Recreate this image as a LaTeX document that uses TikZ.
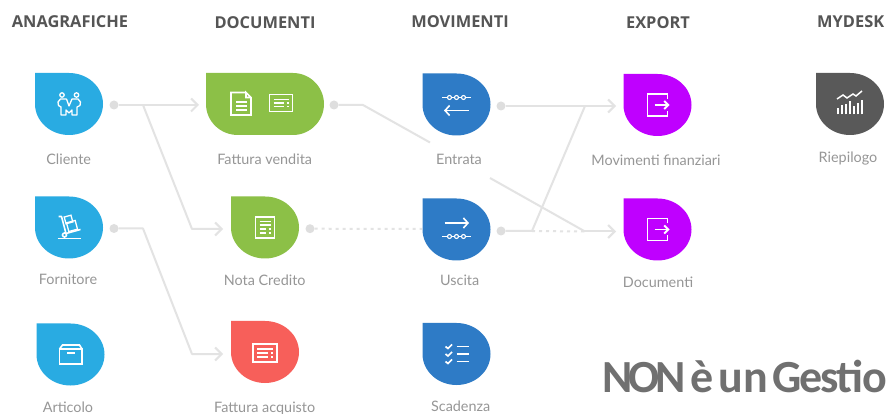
\documentclass[tikz,border=0pt]{standalone}
\usepackage{fontspec}
\setmainfont{Lato}
\newfontfamily\headfont{Open Sans}
\newfontfamily\bigfont[LetterSpace=-4]{Carlito}
\usetikzlibrary{arrows.meta}
\definecolor{cblue}{HTML}{29ABE2}
\definecolor{cgreen}{HTML}{8CC047}
\definecolor{cred}{HTML}{F75F5A}
\definecolor{cdblue}{HTML}{2E7BC6}
\definecolor{cmag}{HTML}{BF00FF}
\definecolor{cdark}{HTML}{595959}
\definecolor{cline}{HTML}{E3E3E3}
\definecolor{cdot}{HTML}{DEDEDE}
\definecolor{chead}{HTML}{555555}
\definecolor{clabel}{HTML}{969696}
\definecolor{cbig}{HTML}{707070}
\tikzset{
  heading/.style={font=\headfont\bfseries\fontsize{16.4}{18}\selectfont,text=chead,inner sep=0pt,anchor=center},
  caption/.style={font=\fontsize{14.4}{16}\selectfont,text=clabel,inner sep=0pt,anchor=center},
  portdot/.style={circle,fill=cdot,draw=none,minimum size=9pt,inner sep=0pt},
  conn/.style={draw=cline,line width=2pt,line join=round},
  connarrow/.style={conn,-{Straight Barb[length=6.5pt,width=13pt,line width=2pt]}},
  conndot/.style={draw=cline,line width=2pt,dash pattern=on 3pt off 4pt},
  icon/.style={draw=white,line width=1.6pt,fill=none,line join=miter},
  iconthin/.style={draw=white,line width=1.3pt,fill=none},
}
% drop: #1 name, #2 left, #3 top, #4 colour
\newcommand{\dropshape}[4]{%
  \fill[#4] (#2,#3) -- ++(34,0) arc[start angle=90,end angle=-90,x radius=34,y radius=-31]
    arc[start angle=-90,end angle=-180,x radius=34,y radius=-31] -- cycle;
  \coordinate (#1) at (#2+34,#3+31);
}
\newcommand{\chainicon}[1]{%
  \draw[iconthin] (-14.5,#1) -- (14.5,#1);
  \foreach \cx in {-7,0,7}{\draw[white,line width=1.1pt,fill=cdblue] (\cx,#1) circle[radius=2];}
}
\newcommand{\exporticon}{%
  \draw[icon] (10,-6) -- (10,-11) -- (-10,-11) -- (-10,11) -- (10,11) -- (10,6);
  \draw[icon,-{Straight Barb[length=4pt,width=8pt,line width=1.8pt]}] (-3,0) -- (12,0);
}
\newcommand{\cardicon}[2]{% half-width, half-height
  \draw[icon] (-#1,-#2) rectangle (#1,#2);
  \draw[iconthin] (-#1+4,-#2+5) -- (#1-4,-#2+5);
  \draw[iconthin] (-#1+4,0) -- (#1-9,0);
  \draw[iconthin] (#1-6,0) -- (#1-4,0);
  \draw[iconthin] (-#1+4,#2-5) -- (#1-9,#2-5);
  \draw[iconthin] (#1-6,#2-5) -- (#1-4,#2-5);
}
\begin{document}
\begin{tikzpicture}[x=1pt,y=-1pt]
\useasboundingbox (0,0) rectangle (887,414);
\fill[white] (0,0) rectangle (887,414);
\clip (0,0) rectangle (887,414);

% connectors: free ends and bends
\coordinate (bCliente) at (143,105);
\coordinate (bClienteB) at (192,229);
\coordinate (tVendita) at (199,105);
\coordinate (tNota) at (223,229);
\coordinate (bForn) at (143,228.5);
\coordinate (bFornB) at (192,354);
\coordinate (tAcq) at (223,354);
\coordinate (bVend) at (363,105);
\coordinate (gapA) at (430,142.5);
\coordinate (gapB) at (490,178);
\coordinate (bDoc) at (585,231.5);
\coordinate (tDoc) at (616,231.5);
\coordinate (tMov) at (616,106);
\coordinate (bMov) at (585,106);
\coordinate (bUsc) at (532,231);
\coordinate (eUsc) at (422,229);

\node[portdot] (dCliente) at (114,105) {};
\node[portdot] (dForn) at (114,228.5) {};
\node[portdot] (dVend) at (334,105) {};
\node[portdot] (dNota) at (310,228.7) {};
\node[portdot] (dEntr) at (501,106) {};
\node[portdot] (dUsc) at (501,231) {};

\draw[connarrow] (dCliente) -- (tVendita);
\draw[connarrow] (bCliente) -- (bClienteB) -- (tNota);
\draw[connarrow] (dForn) -- (bForn) -- (bFornB) -- (tAcq);
\draw[conn] (dVend) -- (bVend) -- (gapA);
\draw[conn] (gapB) -- (bDoc);
\draw[connarrow] (bDoc) -- (tDoc);
\draw[connarrow] (dEntr) -- (tMov);
\draw[conn] (bMov) -- (bUsc) -- (dUsc);
\draw[conndot] (bUsc) -- (bDoc);
\draw[conndot] (dNota) -- (eUsc);

% drops
\dropshape{cliente}{35}{73}{cblue}
\dropshape{fornitore}{35}{196.5}{cblue}
\dropshape{articolo}{36.5}{323.5}{cblue}
\dropshape{nota}{231}{196.5}{cgreen}
\dropshape{acquisto}{231}{321}{cred}
\dropshape{entrata}{422.5}{73.5}{cdblue}
\dropshape{uscita}{422.5}{198.5}{cdblue}
\dropshape{scadenza}{422.5}{323}{cdblue}
\dropshape{movfin}{623.5}{74}{cmag}
\dropshape{documenti}{623.5}{198.5}{cmag}
\dropshape{riepilogo}{816}{73}{cdark}
% wide drop
\fill[cgreen] (206,73) -- (293,73)
  .. controls (310,73) and (324,87) .. (324,104)
  .. controls (324,121) and (310,135) .. (293,135)
  -- (238,135)
  .. controls (220,135) and (206,121) .. (206,104) -- cycle;
\coordinate (vendita) at (265,104);

% Cliente icon
\begin{scope}[shift={(cliente)}]
  \draw[iconthin] (-7,-9) circle[radius=2.2] (7.5,-9) circle[radius=2.2];
  \draw[iconthin,line join=round] (-2.5,-5) -- (-8.5,-5) -- (-11,-2) -- (-10.5,1.5) -- (-8,3) -- (-8,11) -- (-3,11) -- (-3,6) -- (0,9) -- (3,6) -- (3,11) -- (8,11) -- (8,3) -- (11,1.5) -- (11.5,-2) -- (9,-5) -- (3,-5) -- (0,2) -- (-2.5,-5);
\end{scope}
% Fattura vendita icons
\begin{scope}[shift={(241,103.5)}]
  \draw[icon] (5,-11) -- (-10,-11) -- (-10,11.5) -- (10,11.5) -- (10,-6) -- (5,-11) -- (5,-6) -- (10,-6);
  \draw[iconthin,line width=1.6pt] (-5,-1.5) -- (5.5,-1.5) (-5,2.5) -- (5.5,2.5) (-5,6.5) -- (5.5,6.5);
\end{scope}
\begin{scope}[shift={(281,103)}]
  \cardicon{11.5}{8.5}
\end{scope}
% Nota credito icon
\begin{scope}[shift={(265,227.5)}]
  \draw[icon] (-9.5,-10.5) rectangle (9.5,10.5);
  \draw[iconthin] (-5.5,-6) -- (5.5,-6) (-5.5,-2.5) -- (5.5,-2.5);
  \draw[iconthin,line width=1.5pt] (-5.5,1.5) -- (1,1.5) (3.5,1.5) -- (5.5,1.5) (-5.5,5.5) -- (1,5.5) (3.5,5.5) -- (5.5,5.5);
\end{scope}
% Fattura acquisto icon
\begin{scope}[shift={(265,353)}]
  \cardicon{12}{9}
\end{scope}
% Fornitore icon: hand truck
\begin{scope}[shift={(69.5,227.5)}]
  \draw[icon,line join=round] (-11,-11) -- (-8,-11) -- (-3.5,6) -- (11,2);
  \draw[icon] (-12,11) -- (11.5,11);
  \draw[icon,fill=cblue] (-5,7.5) circle[radius=2];
  \draw[iconthin,rotate around={15:(-1,-8)}] (-4.5,-11.5) rectangle (2.5,-4.5);
  \draw[iconthin,rotate around={15:(2.5,-1.5)}] (-2,-6) rectangle (7,3);
\end{scope}
% Articolo icon: box
\begin{scope}[shift={(70.5,354)}]
  \draw[icon] (-11,-5) -- (-11,10) -- (11.5,10) -- (11.5,-5) -- cycle;
  \draw[icon] (-11,-5) -- (-8,-9) -- (9,-9) -- (11.5,-5);
  \draw[iconthin] (-3.5,-1) -- (4,-1);
\end{scope}
% Entrata, Uscita
\begin{scope}[shift={(entrata)}]
  \chainicon{-7}
  \draw[icon,{Straight Barb[length=4.5pt,width=10pt,line width=1.6pt]}-] (-12.5,6) -- (12,6);
\end{scope}
\begin{scope}[shift={(uscita)}]
  \chainicon{7}
  \draw[icon,-{Straight Barb[length=4.5pt,width=10pt,line width=1.6pt]}] (-12,-6.5) -- (12.5,-6.5);
\end{scope}
% Scadenza
\begin{scope}[shift={(scadenza)}]
  \foreach \ty in {-7.5,0,7.5}{
    \draw[iconthin,line width=1.7pt] (-11,\ty) -- (-8.5,\ty+2) -- (-4.5,\ty-2);
    \draw[icon] (0,\ty) -- (12.5,\ty);
  }
\end{scope}
% Export
\begin{scope}[shift={(657.5,105)}]\exporticon\end{scope}
\begin{scope}[shift={(657.5,229.5)}]\exporticon\end{scope}
% Riepilogo
\begin{scope}[shift={(850,104)}]
  \draw[white,line width=1.5pt] (-13,-5) -- (-7,-9) -- (-3,-6) -- (3,-10) -- (6,-8) -- (12,-13);
  \foreach \bx/\by in {-12/4,-8/1,-4/0,0/-3,4/2,8/-1,12/-4}{
    \draw[white,line width=2.2pt] (\bx,10.5) -- (\bx,\by);
  }
\end{scope}

% headings
\node[heading] (hAna) at (70,22) {ANAGRAFICHE};
\node[heading] (hDoc) at (265,23) {DOCUMENTI};
\node[heading] (hMov) at (460,22) {MOVIMENTI};
\node[heading] (hExp) at (658,23) {EXPORT};
\node[heading] (hMyd) at (850.7,22) {MYDESK};

% captions
\node[caption] (lCli) at (68.7,159) {Cliente};
\node[caption] (lVen) at (264.7,159) {Fattura vendita};
\node[caption] (lFor) at (68,279) {Fornitore};
\node[caption] (lNot) at (264.7,280) {Nota Credito};
\node[caption] (lArt) at (68,407) {Articolo};
\node[caption] (lAcq) at (264.7,408) {Fattura acquisto};
\node[caption] (lEnt) at (459,159) {Entrata};
\node[caption] (lUsc) at (459.7,280) {Uscita};
\node[caption] (lSca) at (460.7,406.7) {Scadenza};
\node[caption] (lMfi) at (656,160) {Movimenti finanziari};
\node[caption] (lDoc) at (658,282) {Documenti};
\node[caption] (lRie) at (848,159) {Riepilogo};

% big text
\node[anchor=base west,inner sep=0pt,text=cbig,font=\bigfont\bfseries\fontsize{46}{48}\selectfont] (big) at (602,392) {{\addfontfeature{LetterSpace=-9}NON}\hspace{5pt}è\hspace{5pt}{\addfontfeature{LetterSpace=0}un}\hspace{4pt}Gestio};
\end{tikzpicture}
\end{document}
